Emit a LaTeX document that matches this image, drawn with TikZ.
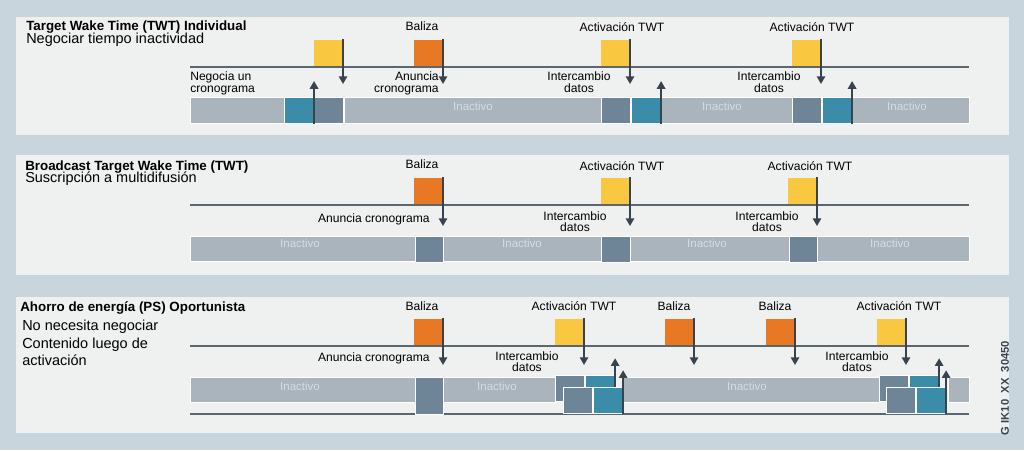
\documentclass[tikz,border=0pt]{standalone}
\usepackage{fontspec}
\setmainfont{Liberation Sans}
\usepackage{tikz}
\usetikzlibrary{arrows.meta, positioning}
\definecolor{backblue}{RGB}{200, 213, 221}
\definecolor{panelgrey}{RGB}{239, 241, 240}
\definecolor{idlegrey}{RGB}{169, 180, 189}
\definecolor{offtext}{RGB}{214, 221, 226}
\definecolor{slate}{RGB}{110, 133, 151}
\definecolor{tealblk}{RGB}{58, 140, 168}
\definecolor{twtyellow}{RGB}{249, 200, 64}
\definecolor{beaconorange}{RGB}{232, 120, 35}
\definecolor{arrowgrey}{RGB}{55, 68, 80}
\definecolor{linegrey}{RGB}{92, 102, 110}

\begin{document}
\begin{tikzpicture}[x=0.025cm, y=-0.025cm,
  panel/.style={fill=panelgrey},
  idle/.style={fill=idlegrey, draw=white, line width=0.6pt},
  slot/.style={draw=white, line width=0.6pt, inner sep=0pt, minimum width=0.73cm, minimum height=0.66cm, anchor=north west},
  flag/.style={inner sep=0pt, minimum width=0.71cm, minimum height=0.65cm, anchor=south east},
  sig/.style={draw=arrowgrey, line width=1.2pt, -{Triangle[width=6pt, length=5.5pt]}},
  axis/.style={draw=linegrey, line width=1pt},
  lbl/.style={font=\fontsize{8.6}{8}\selectfont, align=center, inner sep=0pt, anchor=base},
  off/.style={font=\fontsize{8.2}{8}\selectfont, text=offtext, inner sep=0pt, anchor=base},
  head/.style={font=\fontsize{9.5}{10}\selectfont\bfseries, inner sep=0pt, anchor=base west},
  sub/.style={font=\fontsize{10.3}{11}\selectfont, inner sep=0pt, anchor=base west}]

  \useasboundingbox (0,0) rectangle (1024,450);
  \fill[backblue] (0,0) rectangle (1024,450);

  % Panel 1: individual TWT
  \fill[panel] (16,17) rectangle (1009,135);
  \node[head] (p1head) at (26,30.5) {Target Wake Time (TWT) Individual};
  \node[sub] (p1sub) at (26,43.5) {Negociar tiempo inactividad};
  \draw[axis] (190,67) -- (969,67);

  \path[idle] (190,97) rectangle (284,123);
  \path[idle] (344,97) rectangle (601,123);
  \path[idle] (660,97) rectangle (792,123);
  \path[idle] (851,97) rectangle (969,123);
  \node[off] (p1off1) at (473,110) {Inactivo};
  \node[off] (p1off2) at (722,110) {Inactivo};
  \node[off] (p1off3) at (907,110) {Inactivo};

  \node[slot, fill=tealblk] (p1d1) at (284,97) {};
  \node[slot, fill=slate, right=0pt of p1d1] (p1s1) {};
  \node[slot, fill=slate] (p1s2) at (601,97) {};
  \node[slot, fill=tealblk, right=0pt of p1s2] (p1d2) {};
  \node[slot, fill=slate] (p1s3) at (792,97) {};
  \node[slot, fill=tealblk, right=0pt of p1s3] (p1d3) {};

  \node[flag, fill=twtyellow] (p1w1) at (343,66) {};
  \node[flag, fill=beaconorange] (p1b1) at (443,66) {};
  \node[flag, fill=twtyellow] (p1w2) at (630,66) {};
  \node[flag, fill=twtyellow] (p1w3) at (821,66) {};

  \coordinate[below=0.45cm of p1w1.south east] (p1w1tip);
  \coordinate[below=0.45cm of p1b1.south east] (p1b1tip);
  \coordinate[below=0.45cm of p1w2.south east] (p1w2tip);
  \coordinate[below=0.45cm of p1w3.south east] (p1w3tip);
  \coordinate[above=1.08cm of p1d1.south east] (p1d1tip);
  \coordinate[above=1.08cm of p1d2.south east] (p1d2tip);
  \coordinate[above=1.08cm of p1d3.south east] (p1d3tip);
  \draw[sig] (p1w1.north east) -- (p1w1tip);
  \draw[sig] (p1b1.north east) -- (p1b1tip);
  \draw[sig] (p1w2.north east) -- (p1w2tip);
  \draw[sig] (p1w3.north east) -- (p1w3tip);
  \draw[sig] (p1d1.south east) -- (p1d1tip);
  \draw[sig] (p1d2.south east) -- (p1d2tip);
  \draw[sig] (p1d3.south east) -- (p1d3tip);

  \node[lbl] (p1l1) at (422,30.5) {Baliza};
  \node[lbl] (p1l2) at (622,31) {Activación TWT};
  \node[lbl] (p1l3) at (812,31) {Activación TWT};
  \node[lbl, align=left, anchor=base west] (p1l4) at (190,92) {Negocia un\\cronograma};
  \node[lbl, align=right, anchor=base east] (p1l5) at (439,92) {Anuncia\\cronograma};
  \node[lbl] (p1l6) at (579,92) {Intercambio\\datos};
  \node[lbl] (p1l7) at (769,92) {Intercambio\\datos};

  % Panel 2: broadcast TWT
  \fill[panel] (16,155) rectangle (1009,275);
  \node[head] (p2head) at (25,170) {Broadcast Target Wake Time (TWT)};
  \node[sub] (p2sub) at (25,182.7) {Suscripción a multidifusión};
  \draw[axis] (190,205) -- (969,205);

  \path[idle] (190,236) rectangle (415,261);
  \path[idle] (443,236) rectangle (601,261);
  \path[idle] (630,236) rectangle (789,261);
  \path[idle] (817,236) rectangle (969,261);
  \node[off] (p2off1) at (300,247) {Inactivo};
  \node[off] (p2off2) at (522,247) {Inactivo};
  \node[off] (p2off3) at (707,247) {Inactivo};
  \node[off] (p2off4) at (890,247) {Inactivo};

  \node[slot, fill=slate, minimum width=0.7cm] (p2s1) at (415,236) {};
  \node[slot, fill=slate] (p2s2) at (601,236) {};
  \node[slot, fill=slate, minimum width=0.7cm] (p2s3) at (789,236) {};

  \node[flag, fill=beaconorange] (p2b1) at (443,204) {};
  \node[flag, fill=twtyellow] (p2w1) at (630,204) {};
  \node[flag, fill=twtyellow] (p2w2) at (817,204) {};

  \coordinate[below=0.55cm of p2b1.south east] (p2b1tip);
  \coordinate[below=0.55cm of p2w1.south east] (p2w1tip);
  \coordinate[below=0.55cm of p2w2.south east] (p2w2tip);
  \draw[sig] (p2b1.north east) -- (p2b1tip);
  \draw[sig] (p2w1.north east) -- (p2w1tip);
  \draw[sig] (p2w2.north east) -- (p2w2tip);

  \node[lbl] (p2l1) at (422,168) {Baliza};
  \node[lbl] (p2l2) at (622,170) {Activación TWT};
  \node[lbl] (p2l3) at (810,170) {Activación TWT};
  \node[lbl, anchor=base east] (p2l4) at (430,222.7) {Anuncia cronograma};
  \node[lbl] (p2l5) at (575,231.5) {Intercambio\\datos};
  \node[lbl] (p2l6) at (767,231.5) {Intercambio\\datos};

  % Panel 3: opportunistic PS
  \fill[panel] (16,297) rectangle (1009,433);
  \node[head] (p3head) at (20,311.7) {Ahorro de energía (PS) Oportunista};
  \node[sub] (p3sub1) at (22,330) {No necesita negociar};
  \node[sub] (p3sub2) at (22,348) {Contenido luego de};
  \node[sub] (p3sub3) at (22,365) {activación};
  \draw[axis] (190,346) -- (969,346);
  \draw[axis] (190,414) -- (969,414);

  \path[idle] (190,377) rectangle (415,402);
  \path[idle] (443,377) rectangle (555,402);
  \path[idle] (622,377) rectangle (879,402);
  \path[idle] (948,377) rectangle (969,402);
  \node[off] (p3off1) at (300,390) {Inactivo};
  \node[off] (p3off2) at (497,390) {Inactivo};
  \node[off] (p3off3) at (747,390) {Inactivo};

  \node[slot, fill=slate, minimum width=0.7cm, minimum height=0.93cm] (p3s1) at (415,377) {};
  \node[slot, fill=slate] (p3s2) at (555,375) {};
  \node[slot, fill=tealblk, right=0pt of p3s2] (p3d2) {};
  \node[slot, fill=slate] (p3s4) at (879,375) {};
  \node[slot, fill=tealblk, right=0pt of p3s4] (p3d4) {};
  \coordinate[above=1.1cm of p3d2.south east] (p3d2tip);
  \coordinate[above=1.1cm of p3d4.south east] (p3d4tip);
  \draw[sig] (p3d2.south east) -- (p3d2tip);
  \draw[sig] (p3d4.south east) -- (p3d4tip);

  \node[slot, fill=slate] (p3s3) at (563,387) {};
  \node[slot, fill=tealblk, right=0pt of p3s3] (p3d3) {};
  \node[slot, fill=slate] (p3s5) at (886,387) {};
  \node[slot, fill=tealblk, right=0pt of p3s5] (p3d5) {};
  \coordinate[above=1.1cm of p3d3.south east] (p3d3tip);
  \coordinate[above=1.1cm of p3d5.south east] (p3d5tip);
  \draw[sig] (p3d3.south east) -- (p3d3tip);
  \draw[sig] (p3d5.south east) -- (p3d5tip);

  \node[flag, fill=beaconorange] (p3b1) at (443,345) {};
  \node[flag, fill=twtyellow] (p3w1) at (584,345) {};
  \node[flag, fill=beaconorange] (p3b2) at (694,345) {};
  \node[flag, fill=beaconorange] (p3b3) at (795,345) {};
  \node[flag, fill=twtyellow] (p3w2) at (906,345) {};

  \coordinate[below=0.5cm of p3b1.south east] (p3b1tip);
  \coordinate[below=0.5cm of p3w1.south east] (p3w1tip);
  \coordinate[below=0.5cm of p3b2.south east] (p3b2tip);
  \coordinate[below=0.5cm of p3b3.south east] (p3b3tip);
  \coordinate[below=0.5cm of p3w2.south east] (p3w2tip);
  \draw[sig] (p3b1.north east) -- (p3b1tip);
  \draw[sig] (p3w1.north east) -- (p3w1tip);
  \draw[sig] (p3b2.north east) -- (p3b2tip);
  \draw[sig] (p3b3.north east) -- (p3b3tip);
  \draw[sig] (p3w2.north east) -- (p3w2tip);

  \node[lbl] (p3l1) at (422,310) {Baliza};
  \node[lbl] (p3l2) at (574,310) {Activación TWT};
  \node[lbl] (p3l3) at (674,310) {Baliza};
  \node[lbl] (p3l4) at (775,310) {Baliza};
  \node[lbl] (p3l5) at (899,310) {Activación TWT};
  \node[lbl, anchor=base east] (p3l6) at (430,361.7) {Anuncia cronograma};
  \node[lbl] (p3l7) at (527,371.5) {Intercambio\\datos};
  \node[lbl] (p3l8) at (857,371.5) {Intercambio\\datos};

  % Figure reference
  \node[rotate=90, font=\fontsize{8}{8}\selectfont\bfseries, text=arrowgrey] (figref) at (1005,388) {G IK10\ \ XX\ \ 30450};
\end{tikzpicture}
\end{document}
